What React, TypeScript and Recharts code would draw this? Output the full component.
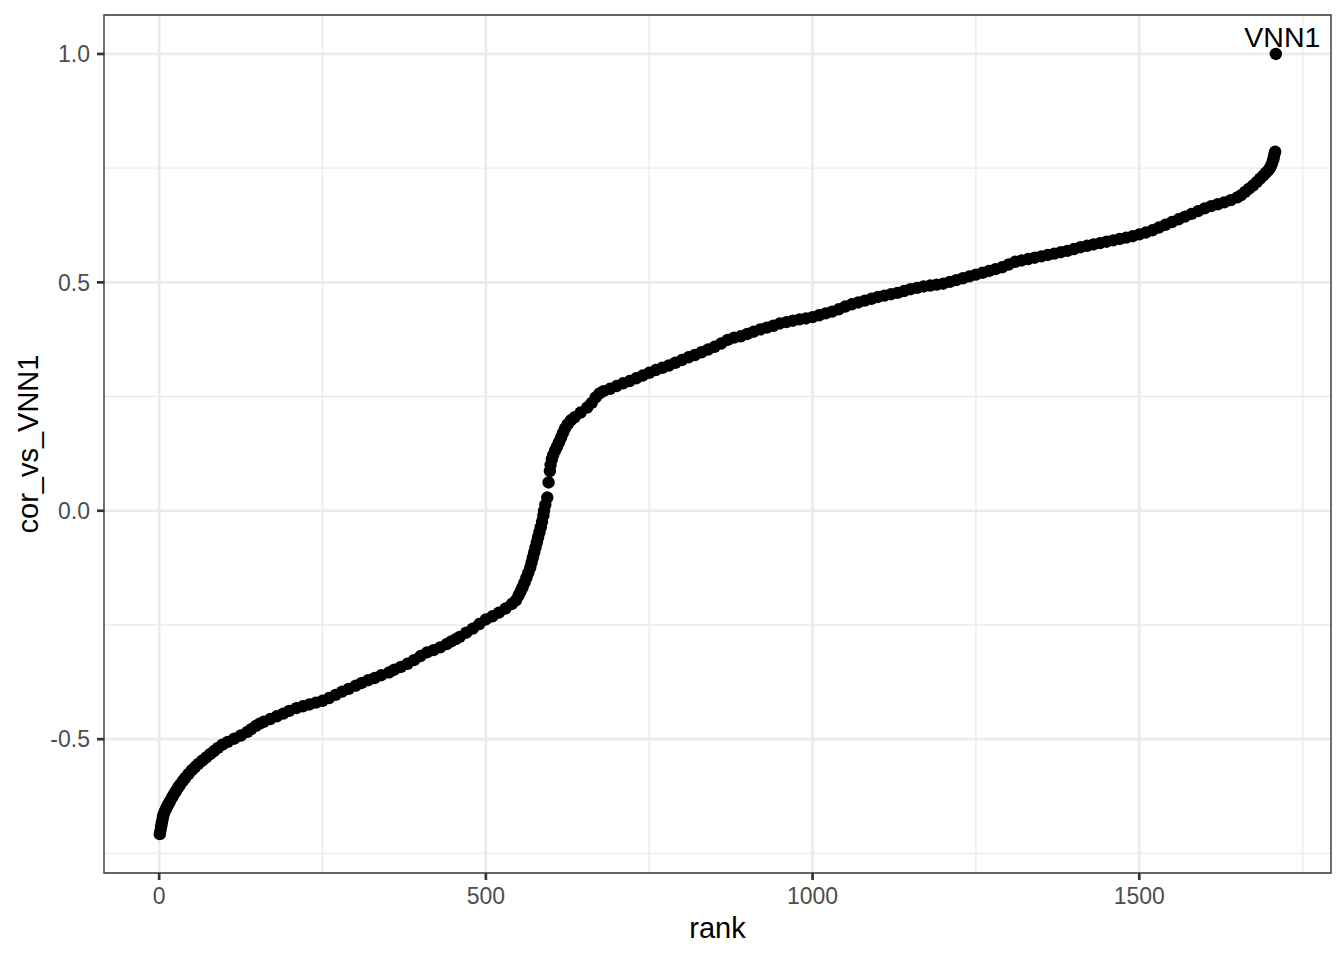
import { CartesianGrid, Label, LabelList, ReferenceArea, Scatter, ScatterChart, XAxis, YAxis } from 'recharts';

// rank of each gene (sorted by correlation) and its correlation with VNN1
const ranks = [
    1, 2, 3, 4, 5, 6, 7, 9, 11, 13, 15, 17, 20, 23, 26, 29, 32, 36, 40, 45, 50, 55, 60, 66, 72, 78, 84, 90, 97,
    105, 115, 125, 135, 141, 148, 154, 160, 170, 180, 190, 199, 210, 220, 230, 240, 250, 260, 270, 280, 290, 301,
    310, 320, 330, 340, 352, 360, 370, 380, 390, 400, 410, 420, 430, 440, 447, 454, 460, 470, 480, 490, 500, 510,
    520, 530, 540, 546, 550, 553, 556, 559, 562, 565, 568, 570, 572, 574, 576, 578, 580, 582, 584, 586, 588, 589,
    591, 594, 596, 598, 599, 601, 603, 606, 609, 612, 615, 618, 621, 625, 630, 636, 645, 655, 662, 668, 674, 680,
    690, 700, 710, 720, 730, 740, 750, 760, 770, 780, 790, 800, 810, 820, 830, 840, 850, 860, 870, 880, 890, 900,
    910, 920, 930, 940, 950, 960, 970, 980, 990, 1000, 1010, 1020, 1030, 1040, 1050, 1060, 1070, 1080, 1090, 1100,
    1110, 1120, 1130, 1140, 1150, 1160, 1170, 1180, 1190, 1200, 1210, 1220, 1230, 1240, 1250, 1260, 1270, 1280,
    1290, 1300, 1310, 1320, 1330, 1340, 1350, 1360, 1370, 1380, 1390, 1400, 1410, 1420, 1430, 1440, 1450, 1460,
    1470, 1480, 1490, 1500, 1510, 1520, 1530, 1540, 1550, 1560, 1570, 1580, 1590, 1600, 1610, 1620, 1630, 1640,
    1650, 1656, 1662, 1668, 1674, 1680, 1685, 1690, 1694, 1698, 1701, 1703, 1705, 1706, 1707, 1708,
];

const corValues = [
    -0.708, -0.7, -0.692, -0.684, -0.677, -0.67, -0.664, -0.657, -0.651, -0.645, -0.64, -0.635, -0.627, -0.62,
    -0.613, -0.606, -0.6, -0.592, -0.585, -0.576, -0.568, -0.561, -0.554, -0.547, -0.54, -0.533, -0.526, -0.519,
    -0.512, -0.506, -0.499, -0.492, -0.484, -0.478, -0.471, -0.466, -0.462, -0.456, -0.45, -0.444, -0.438, -0.432,
    -0.428, -0.424, -0.42, -0.416, -0.41, -0.403, -0.396, -0.39, -0.383, -0.377, -0.371, -0.366, -0.36, -0.354,
    -0.348, -0.342, -0.335, -0.327, -0.318, -0.31, -0.305, -0.299, -0.292, -0.286, -0.281, -0.276, -0.267, -0.258,
    -0.248, -0.238, -0.231, -0.223, -0.214, -0.204, -0.196, -0.186, -0.177, -0.168, -0.158, -0.147, -0.136, -0.124,
    -0.113, -0.102, -0.091, -0.08, -0.069, -0.058, -0.047, -0.036, -0.024, -0.01, 0.0, 0.013, 0.029, 0.062, 0.087,
    0.1, 0.113, 0.122, 0.132, 0.141, 0.15, 0.16, 0.17, 0.18, 0.189, 0.198, 0.205, 0.215, 0.226, 0.236, 0.248,
    0.257, 0.262, 0.267, 0.273, 0.279, 0.284, 0.29, 0.296, 0.302, 0.308, 0.313, 0.318, 0.324, 0.33, 0.336, 0.341,
    0.347, 0.353, 0.359, 0.366, 0.374, 0.379, 0.382, 0.387, 0.392, 0.397, 0.401, 0.405, 0.41, 0.413, 0.416, 0.419,
    0.421, 0.424, 0.428, 0.432, 0.436, 0.441, 0.447, 0.452, 0.456, 0.46, 0.464, 0.468, 0.471, 0.474, 0.477, 0.481,
    0.485, 0.488, 0.491, 0.493, 0.495, 0.497, 0.501, 0.505, 0.509, 0.513, 0.517, 0.521, 0.525, 0.529, 0.533, 0.539,
    0.545, 0.548, 0.551, 0.554, 0.557, 0.56, 0.563, 0.566, 0.569, 0.573, 0.577, 0.58, 0.583, 0.586, 0.589, 0.592,
    0.595, 0.598, 0.601, 0.605, 0.609, 0.614, 0.62, 0.626, 0.632, 0.638, 0.644, 0.65, 0.656, 0.662, 0.667, 0.671,
    0.675, 0.68, 0.686, 0.691, 0.698, 0.705, 0.712, 0.72, 0.727, 0.734, 0.74, 0.746, 0.753, 0.76, 0.768, 0.775,
    0.782, 0.786,
];

// the gene itself, labelled in the plot
const labelledGenes = ['VNN1'];
const labelledRanks = [1709];
const labelledCors = [1.0];

const xTicks = [0, 500, 1000, 1500];
const xMinorTicks = [250, 750, 1250, 1750];
const yTicks = [-0.5, 0, 0.5, 1.0];
const yMinorTicks = [-0.75, -0.25, 0.25, 0.75];

const xDomain: [number, number] = [-84.4, 1793.4];
const yDomain: [number, number] = [-0.793, 1.0853];

const FONT = '"Liberation Sans", Arial, sans-serif';
const DOT_R = 6.2;

const points = ranks.map((rank, i) => ({ rank, cor: corValues[i] }));
const labelled = labelledGenes.map((gene, i) => ({ gene, rank: labelledRanks[i], cor: labelledCors[i] }));

const Dot = (props: any) => <circle cx={props.cx} cy={props.cy} r={DOT_R} fill="#000000" />;

const GeneLabel = (props: any) => {
    const vb = props.viewBox ?? props;
    const cx = vb.x + (vb.width ?? 0) / 2;
    const cy = vb.y + (vb.height ?? 0) / 2;
    return (
        <text x={cx + 6.5} y={cy - 7} textAnchor="middle" fontSize={28.5} fontFamily={FONT} fill="#000000">
            {props.value}
        </text>
    );
};

const XTitle = (props: any) => {
    const { x, y, width } = props.viewBox;
    return (
        <text x={x + width / 2} y={y + 65} textAnchor="middle" fontSize={29} fontFamily={FONT} fill="#000000">
            rank
        </text>
    );
};

const YTitle = (props: any) => {
    const { y, height } = props.viewBox;
    const tx = 38;
    const ty = y + height / 2;
    return (
        <text x={tx} y={ty} transform={`rotate(-90 ${tx} ${ty})`} textAnchor="middle" fontSize={29} fontFamily={FONT} fill="#000000">
            cor_vs_VNN1
        </text>
    );
};

const tickStyle = { fill: '#4D4D4D', fontSize: 23, fontFamily: FONT };
const tickLineStyle = { stroke: '#333333', strokeWidth: 2.7 };

export default function App() {
    return (
        <div style={{ position: 'absolute', left: 0, top: 0, width: 1344, height: 960, background: '#ffffff' }}>
            <ScatterChart width={1344} height={960} margin={{ top: 15, right: 13, bottom: 17, left: 24 }}>
                <CartesianGrid
                    stroke="#EBEBEB"
                    strokeWidth={1.4}
                    horizontalValues={yMinorTicks}
                    verticalValues={xMinorTicks}
                />
                <CartesianGrid stroke="#EBEBEB" strokeWidth={2.7} horizontalValues={yTicks} verticalValues={xTicks} />
                <XAxis
                    type="number"
                    dataKey="rank"
                    domain={xDomain}
                    ticks={xTicks}
                    allowDataOverflow
                    axisLine={false}
                    tickSize={7}
                    tickMargin={8}
                    tickLine={tickLineStyle}
                    tick={tickStyle}
                    height={70}
                >
                    <Label content={XTitle} />
                </XAxis>
                <YAxis
                    type="number"
                    dataKey="cor"
                    domain={yDomain}
                    ticks={yTicks}
                    allowDataOverflow
                    tickFormatter={(v: number) => v.toFixed(1)}
                    axisLine={false}
                    tickSize={7}
                    tickMargin={7}
                    tickLine={tickLineStyle}
                    tick={tickStyle}
                    width={80}
                >
                    <Label content={YTitle} />
                </YAxis>
                <Scatter data={points} shape={Dot} isAnimationActive={false} />
                <Scatter data={labelled} shape={Dot} isAnimationActive={false}>
                    <LabelList dataKey="gene" content={GeneLabel} />
                </Scatter>
                <ReferenceArea
                    x1={xDomain[0]}
                    x2={xDomain[1]}
                    y1={yDomain[0]}
                    y2={yDomain[1]}
                    fill="none"
                    stroke="#333333"
                    strokeWidth={1.4}
                    ifOverflow="visible"
                />
            </ScatterChart>
        </div>
    );
}
